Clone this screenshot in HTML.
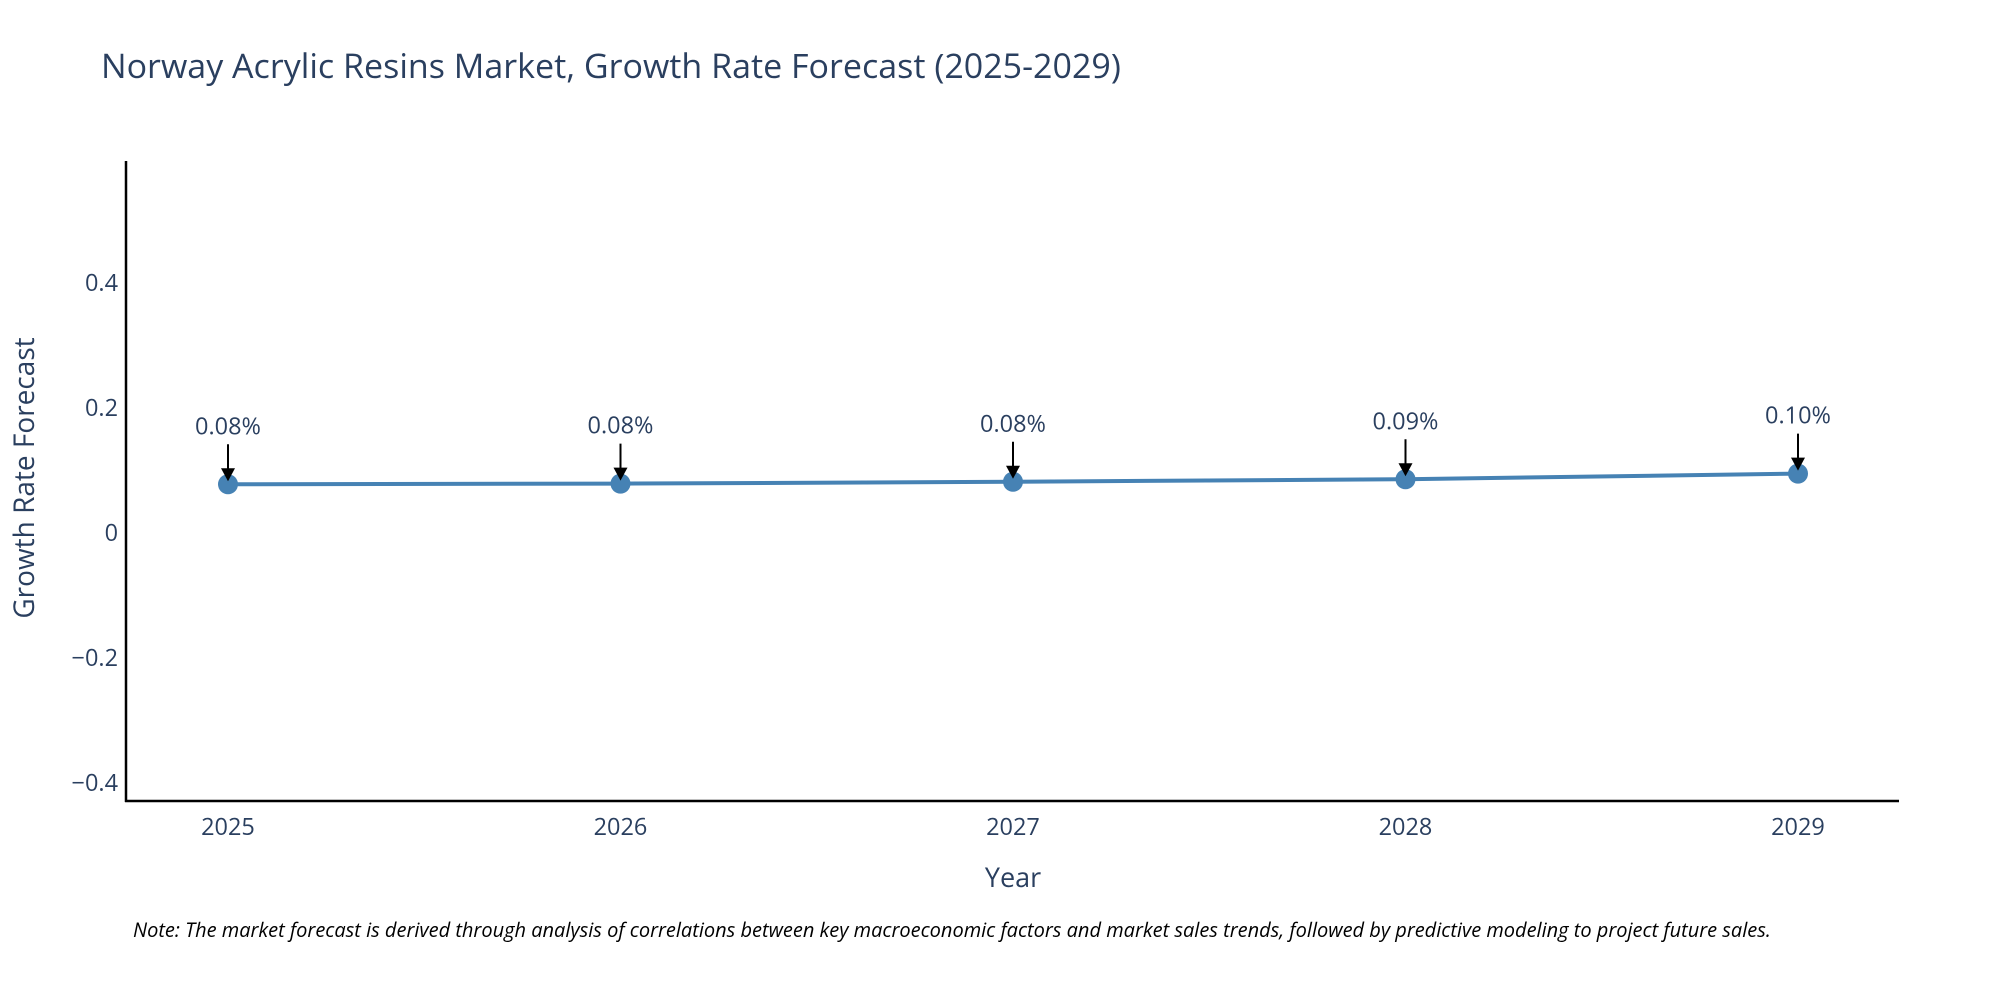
<!DOCTYPE html>
<html><head><meta charset="utf-8"><style>
body{margin:0;background:#fff;}
svg text{font-family:"Open Sans","Liberation Sans",sans-serif;}
</style></head><body>
<svg id="chart" width="2000" height="1000" xmlns="http://www.w3.org/2000/svg">
<text x="101" y="78" font-size="34" fill="#2a3f5f">Norway Acrylic Resins Market, Growth Rate Forecast (2025-2029)</text>
<g id="yticks"></g>
<g id="xticks"></g>
<line x1="126" y1="161" x2="126" y2="802" stroke="#000" stroke-width="2.5"/>
<line x1="125" y1="801" x2="1899" y2="801" stroke="#000" stroke-width="2.5"/>
<g id="series"></g>
<text x="1013" y="887" font-size="27" fill="#2a3f5f" text-anchor="middle">Year</text>
<text transform="translate(34,478) rotate(-90)" font-size="28" fill="#2a3f5f" text-anchor="middle">Growth Rate Forecast</text>
<text x="133" y="937" font-size="20" font-style="italic" fill="#000">Note: The market forecast is derived through analysis of correlations between key macroeconomic factors and market sales trends, followed by predictive modeling to project future sales.</text>
</svg>
<script>
const categories=[2025,2026,2027,2028,2029];
const values=[0.078,0.079,0.082,0.086,0.095];
const labels=["0.08%","0.08%","0.08%","0.09%","0.10%"];
const yTicks=[-0.4,-0.2,0,0.2,0.4];
const yTickLabels=["\u22120.4","\u22120.2","0","0.2","0.4"];
const NS="http://www.w3.org/2000/svg";
function xs(i){return 228+(1798-228)*i/(categories.length-1);}
function ys(v){return 533-v*625;}
function mk(t,a,p){const e=document.createElementNS(NS,t);for(const k in a)e.setAttribute(k,a[k]);p.appendChild(e);return e;}
const yt=document.getElementById('yticks');
yTicks.forEach((v,i)=>{const t=mk('text',{x:118,y:ys(v)+8,'font-size':23.5,fill:'#2a3f5f','text-anchor':'end'},yt);


t.textContent=yTickLabels[i];});
const xt=document.getElementById('xticks');
categories.forEach((c,i)=>{const t=mk('text',{x:xs(i),y:835,'font-size':23.5,fill:'#2a3f5f','text-anchor':'middle'},xt);


t.textContent=c;});
const s=document.getElementById('series');
const line=mk('polyline',{points:values.map((v,i)=>xs(i)+','+ys(v)).join(' '),fill:'none',stroke:'#4682b4','stroke-width':4},s);


values.forEach((v,i)=>{const x=xs(i),y=ys(v);
const c=mk('circle',{cx:x,cy:y,r:10,fill:'#4682b4'},s);


const a=mk('line',{x1:x,y1:y-40,x2:x,y2:y-14,stroke:'#000','stroke-width':2},s);


const h=mk('polygon',{points:(x-7)+','+(y-16)+' '+(x+7)+','+(y-16)+' '+x+','+(y-3),fill:'#000'},s);


const t=mk('text',{x:x,y:y-50,'font-size':23.5,fill:'#2a3f5f','text-anchor':'middle'},s);


t.textContent=labels[i];});
</script>
</body></html>
